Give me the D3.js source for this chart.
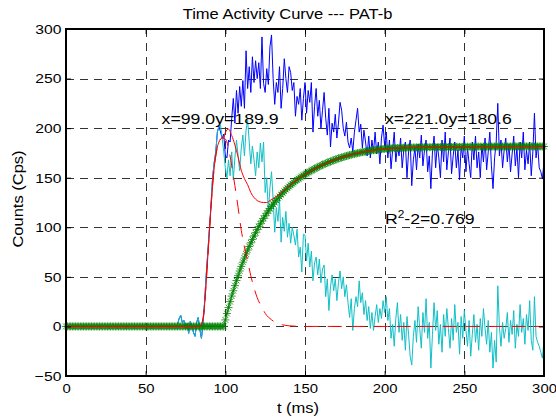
<!DOCTYPE html>
<html><head><meta charset="utf-8">
<script src="https://cdn.jsdelivr.net/npm/d3@7"></script>
<style>body{margin:0;background:#fff}svg{display:block}text{font-family:"Liberation Sans",Arial,Helvetica,sans-serif;fill:#000}</style>
</head><body>
<svg id="c" width="556" height="419"></svg>
<script>
// ---------- DATA ----------
const titleText = "Time Activity Curve --- PAT-b";
const xLabel = "t (ms)";
const yLabel = "Counts (Cps)";
const xTickValues = [0, 50, 100, 150, 200, 250, 300];
const yTickValues = [-50, 0, 50, 100, 150, 200, 250, 300];

// measured curves sampled every 1 ms from t = 70 to 300
const sampleStart = 70;
const blueValues = [
  2,8,11,4,6,-2,3,-7,5,0,-6,-10,4,9,-3,-12,2,25,52,75,98,122,150,165,176,196,202,
  196,190,194,172,170,188,186,210,230,205,238,215,242,222,248,220,278,240,262,236,272,246,268,250,266,240,292,245,236,260,244,282,294,250,224,246,236,262,220,240,270,250,236,262,256,238,246,212,232,224,240,208,230,246,
  215,238,226,246,196,222,240,212,228,200,
  218,236,210,193,220,181,205,196,214,190,
  205,226,218,200,192,206,186,180,190,176,
  196,208,220,196,204,180,198,186,172,192,
  170,188,176,196,174,186,164,190,203,182,
  196,170,188,159,178,196,166,182,172,190,
  160,178,186,150,176,188,142,168,180,158,
  184,170,193,162,178,188,156,172,139,176,
  192,160,184,170,150,188,166,196,158,176,
  190,154,172,186,160,178,148,182,170,192,
  156,180,164,150,186,168,192,160,176,150,
  184,166,190,158,176,196,162,139,170,186,
  225,172,188,160,178,190,166,184,156,174,
  192,162,180,150,186,170,196,158,178,164,
  186,152,176,215,170,184,160,156,149,166
];
const cyanValues = [
  2,8,11,4,6,-2,3,-7,5,0,-6,-10,4,9,-3,-12,2,25,52,75,98,122,150,165,176,196,202,
  203,190,176,160,150,168,152,176,148,170,
  188,172,157,180,193,172,198,208,186,164,
  182,168,152,176,160,185,166,186,135,150,
  115,140,156,128,95,120,106,128,85,110,
  96,116,90,104,84,100,92,82,98,70,
  80,55,93,92,66,84,60,76,46,64,
  70,52,68,44,58,62,30,48,16,40,
  52,36,48,26,44,56,38,50,30,42,
  24,9,28,-4,18,30,20,46,24,34,
  12,26,6,20,-2,14,-4,10,22,4,
  18,8,26,14,30,6,18,-12,2,-20,
  8,24,-6,12,-14,4,-24,10,-8,-30,
  -39,-10,6,-16,20,-2,-22,14,-6,28,
  -12,4,-42,-8,24,-4,16,-18,2,-26,
  12,-10,18,-2,-22,8,-14,22,-6,4,
  -28,10,-12,16,-4,-20,6,-30,-8,12,
  -16,2,-24,8,-10,18,-2,-18,6,-26,
  -6,-42,-14,-36,41,0,-20,4,-12,-2,
  14,-16,6,-8,16,-22,2,-10,22,-6,
  8,-18,12,-4,26,-14,-24,30,-10,-16,
  -20,-26,-32,-14
];

// fitted recirculation curve (green stars), every 1 ms from 0 to 300
const greenValues = [
  0,0,0,0,0,0,0,0,0,0, 0,0,0,0,0,0,0,0,0,0, 0,0,0,0,0,0,0,0,0,0, 0,0,0,0,0,0,0,0,0,0, 0,0,0,0,0,0,0,0,0,0,
  0,0,0,0,0,0,0,0,0,0, 0,0,0,0,0,0,0,0,0,0, 0,0,0,0,0,0,0,0,0,0, 0,0,0,0,0,0,0,0,0,0, 0,0,0,0,0,0,0,0,0,0,
  6.6,13,19,25,30.6,36,41.2,46.3,51.2,55.9,
  60.5,64.8,69,73.1,77,80.7,84.3,87.8,91.2,94.5,
  97.7,100.6,103.5,106.3,109,111.6,114.2,116.6,118.9,121.1,
  123.3,125.3,127.3,129.2,131.1,132.9,134.7,136.4,138,139.6,
  141.1,142.5,143.9,145.2,146.5,147.8,149,150.1,151.2,152.3,
  153.3,154.3,155.3,156.3,157.2,158.1,159,159.8,160.6,161.4,
  162.2,163,163.7,164.4,165.1,165.8,166.4,167,167.6,168.2,
  168.8,169.4,169.9,170.4,170.9,171.4,171.9,172.4,172.8,173.2,
  173.6,174,174.4,174.8,175.1,175.5,175.8,176.1,176.4,176.7,
  177,177.3,177.5,177.8,178,178.2,178.4,178.6,178.8,179,
  179.1,179.3,179.4,179.5,179.6,179.7,179.8,179.9,180,180,
  180.1,180.1,180.2,180.2,180.3,180.3,180.4,180.4,180.5,180.5,
  180.6,180.6,180.6,180.6,180.7,180.7,180.7,180.7,180.8,180.8,
  180.8,180.8,180.8,180.9,180.9,180.9,180.9,180.9,181,181,
  181,181,181,181,181,181.1,181.1,181.1,181.1,181.1,
  181.1,181.2,181.2,181.2,181.2,181.2,181.2,181.2,181.3,181.3,
  181.3,181.3,181.3,181.3,181.3,181.3,181.3,181.4,181.4,181.4,
  181.4,181.4,181.4,181.4,181.4,181.4,181.4,181.4,181.4,181.4,
  181.5,181.5,181.5,181.5,181.5,181.5,181.5,181.5,181.5,181.5,
  181.5,181.5,181.5,181.5,181.5,181.5,181.5,181.5,181.5,181.5,
  181.5
];

// total fit (red solid)
const fitTimes = [0,84,85,86,87,88,89,90,91,92,93,94,95,96,97,98,99,100,
  102,104,106,108,110,112,114,116,118,120,122,124,126,128,130,132,134,136,138,140,
  145,150,155,160,165,170,175,180,190,200,210,220,240,270,300];
const fitValues = [0,0,2,8,22,45,70,96,120,142,160,172,181,186,189,190,190.5,195.6,
  199,192.6,183,171,157.5,149,143,135,130,127,125.5,125,125,127,128.8,131,133.6,136.3,139,141.7,
  148,153.3,158,162.2,165.8,168.8,171.4,173.6,177,179.1,180.1,180.6,181,181.2,181.5];

// first-pass gamma fit (red dashed)
const gammaTimes = [0,84,85,86,87,88,89,90,91,92,93,94,95,96,97,98,99,100,
  102,104,105,106,108,110,112,114,116,118,120,122,124,126,128,130,132,134,136,138,140,145,150,300];
const gammaValues = [0,0,2,8,22,45,70,96,120,142,160,172,181,186,189,190,189.9,189,
  180,162,152,142,120,97,80,66,51,39,29,22,16,11,8,5.5,3.8,2.5,1.6,1,0.6,0.2,0,0];

const annotations = [
  {x: 60, y: 203.7, text: "x=99.0y=189.9"},
  {x: 200.2, y: 203.7, text: "x=221.0y=180.6"}
];
const r2Note = {x: 200.2, y: 102.9, pre: "R", sup: "2", post: "-2=0.769"};

// ---------- CHART ----------
const SX = 1.18;
const svg = d3.select("#c");
svg.append("rect").attr("width", 556).attr("height", 419).attr("fill", "#fff");

const x = d3.scaleLinear().domain([0, 300]).range([66, 544]);
const y = d3.scaleLinear().domain([-50, 300]).range([376, 29]);

// grid
const grid = svg.append("g").attr("stroke", "#333").attr("stroke-width", 1)
  .attr("stroke-dasharray", "8,6").attr("shape-rendering", "crispEdges");
grid.selectAll("line.v").data(xTickValues.slice(1, -1)).join("line")
  .attr("x1", d => Math.round(x(d)) + 0.5).attr("x2", d => Math.round(x(d)) + 0.5)
  .attr("y1", y(300)).attr("y2", y(-50));
grid.selectAll("line.h").data(yTickValues.slice(1, -1)).join("line")
  .attr("y1", d => Math.round(y(d)) + 0.5).attr("y2", d => Math.round(y(d)) + 0.5)
  .attr("x1", x(0)).attr("x2", x(300));

const blue = blueValues.map((v, i) => [sampleStart + i, v]);
const cyan = cyanValues.map((v, i) => [sampleStart + i, v]);
const green = greenValues.map((v, i) => [i, v]);
const fit = fitTimes.map((t, i) => [t, fitValues[i]]);
const gam = gammaTimes.map((t, i) => [t, gammaValues[i]]);

const line = d3.line().x(d => x(d[0])).y(d => y(d[1]));
const smooth = d3.line().x(d => x(d[0])).y(d => y(d[1])).curve(d3.curveMonotoneX);

svg.append("path").attr("d", line(blue)).attr("fill", "none").attr("stroke", "#0000ff").attr("stroke-width", 1);
svg.append("path").attr("d", line(cyan)).attr("fill", "none").attr("stroke", "#10bfc6").attr("stroke-width", 1);

svg.append("path").attr("d", line(green)).attr("fill", "none").attr("stroke", "#008000").attr("stroke-width", 1);
const star = "M-4,0H4M0,-4V4M-2.9,-2.9L2.9,2.9M-2.9,2.9L2.9,-2.9";
svg.append("g").selectAll("path").data(green).join("path")
  .attr("transform", d => `translate(${x(d[0])},${y(d[1])})`)
  .attr("d", star).attr("fill", "none").attr("stroke", "#008000").attr("stroke-width", 0.8);

svg.append("path").attr("d", smooth(fit)).attr("fill", "none").attr("stroke", "#ff0000").attr("stroke-width", 1);
svg.append("path").attr("d", smooth(gam)).attr("fill", "none").attr("stroke", "#ff0000").attr("stroke-width", 1)
  .attr("stroke-dasharray", "14,9");

// axes (ticks inward on all four sides)
function styleText(sel, sx) {
  sel.selectAll("text").attr("font-size", "13.5px").attr("fill", "#000")
    .attr("font-family", '"Liberation Sans",Arial,sans-serif')
    .attr("transform", `scale(${sx},1)`);
}
const axB = svg.append("g").attr("transform", `translate(0,${y(-50)})`)
  .call(d3.axisBottom(x).tickValues(xTickValues).tickSizeInner(-5).tickSizeOuter(0).tickPadding(7));
const axL = svg.append("g").attr("transform", `translate(${x(0)},0)`)
  .call(d3.axisLeft(y).tickValues(yTickValues).tickSizeInner(-5).tickSizeOuter(0).tickPadding(4));
const axT = svg.append("g").attr("transform", `translate(0,${y(300)})`)
  .call(d3.axisTop(x).tickValues(xTickValues).tickSizeInner(-5).tickSizeOuter(0).tickFormat(""));
const axR = svg.append("g").attr("transform", `translate(${x(300)},0)`)
  .call(d3.axisRight(y).tickValues(yTickValues).tickSizeInner(-5).tickSizeOuter(0).tickFormat(""));
[axB, axL, axT, axR].forEach(a => {
  a.select(".domain").remove();
  a.selectAll(".tick line").attr("stroke", "#000");
});
styleText(axB, 1.1);
styleText(axL, 1.16);
svg.append("rect").attr("x", x(0)).attr("y", y(300)).attr("width", x(300) - x(0)).attr("height", y(-50) - y(300))
  .attr("fill", "none").attr("stroke", "#000").attr("stroke-width", 2);

// titles
svg.append("text").attr("transform", `translate(287.5,19) scale(${SX},1)`).attr("text-anchor", "middle")
  .attr("font-size", "14px").text(titleText);
svg.append("text").attr("transform", `translate(298,413) scale(${SX},1)`).attr("text-anchor", "middle")
  .attr("font-size", "14px").text(xLabel);
svg.append("text").attr("transform", `translate(23,199) rotate(-90) scale(${SX},1)`).attr("text-anchor", "middle")
  .attr("font-size", "14px").text(yLabel);

// annotations
annotations.forEach(a => {
  svg.append("text").attr("transform", `translate(${x(a.x)},${y(a.y)}) scale(${SX},1)`)
    .attr("font-size", "15px").text(a.text);
});
const r2 = svg.append("text").attr("transform", `translate(${x(r2Note.x)},${y(r2Note.y)}) scale(${SX},1)`)
  .attr("font-size", "15px");
r2.append("tspan").text(r2Note.pre);
r2.append("tspan").attr("font-size", "10px").attr("dy", -6).text(r2Note.sup);
r2.append("tspan").attr("dy", 6).text(r2Note.post);
</script>
</body></html>
